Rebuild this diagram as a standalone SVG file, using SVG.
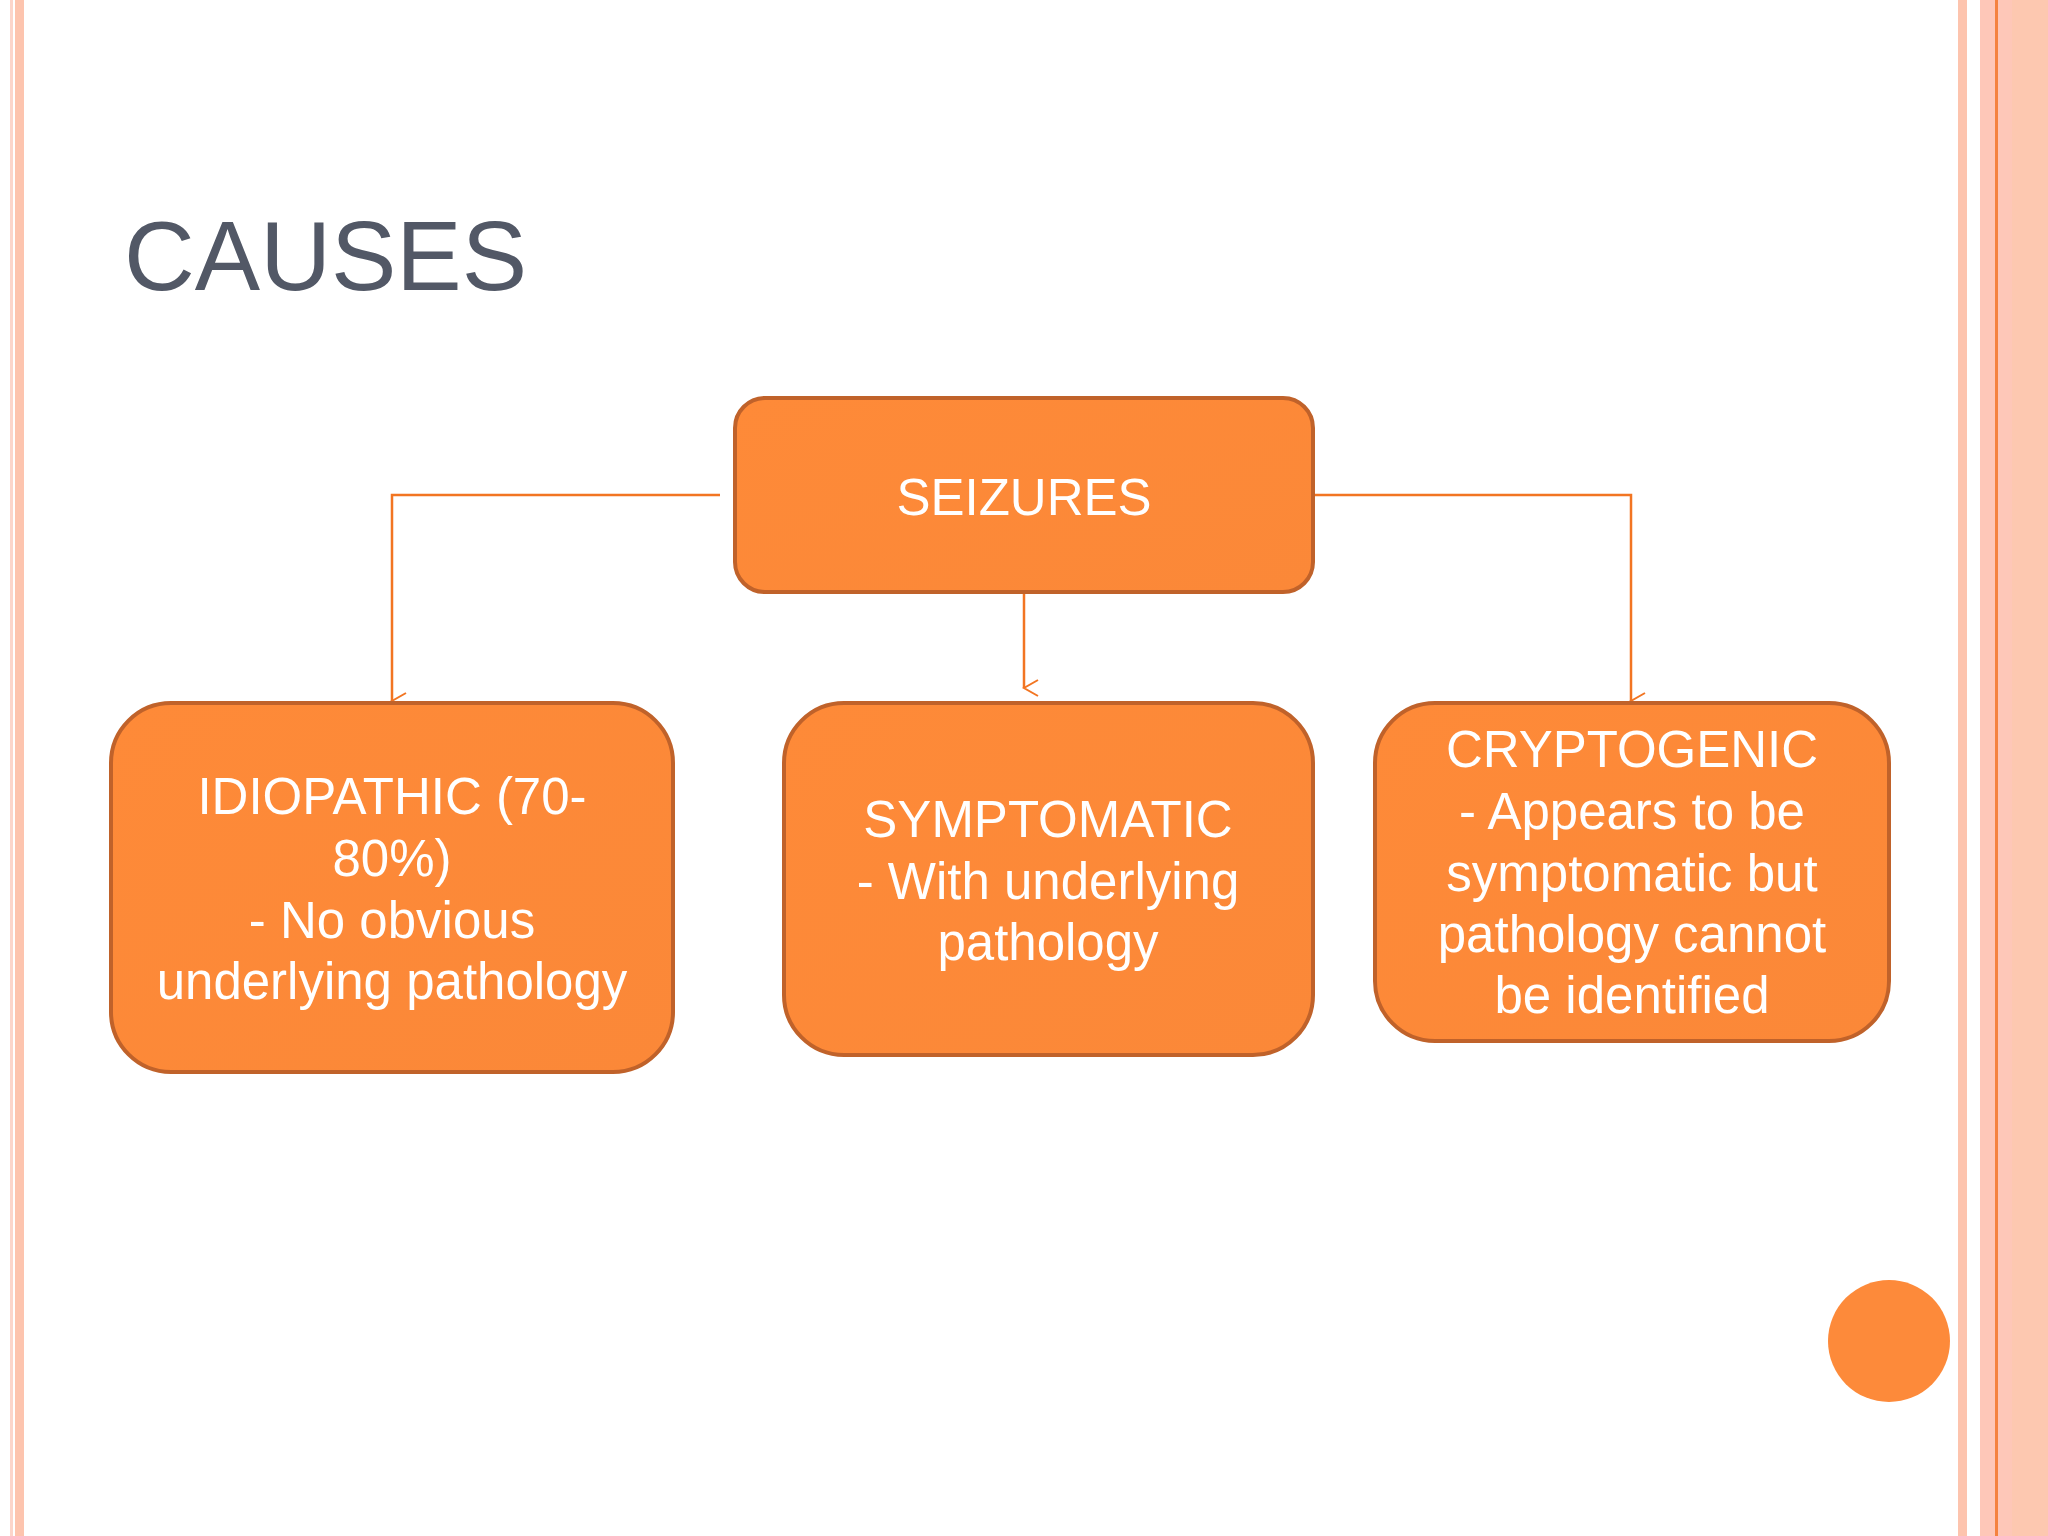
<svg xmlns="http://www.w3.org/2000/svg" width="2048" height="1536" viewBox="0 0 2048 1536">
<defs>
<linearGradient id="g" x1="0" y1="0" x2="1" y2="1"><stop offset="0" stop-color="#FE8A38"/><stop offset="1" stop-color="#FB8838"/></linearGradient>
<marker id="a" viewBox="0 0 20 20" refX="10" refY="18" markerWidth="20" markerHeight="20" markerUnits="userSpaceOnUse" orient="auto-start-reverse"><path d="M2 4 L10 18 L18 4" fill="none" stroke="#F27522" stroke-width="2"/></marker>
</defs>
<style>
.box{fill:url(#g);stroke:#C0622A;stroke-width:4}
.t{font-family:"Liberation Sans",Arial,sans-serif;font-size:51px;fill:#fff;text-anchor:middle}
.c{fill:none;stroke:#F27522;stroke-width:2.5}
</style>
<rect width="2048" height="1536" fill="#fff"/>
<rect x="10" y="0" width="3" height="1536" fill="#FCD5CA"/>
<rect x="15" y="0" width="9" height="1536" fill="#FDC4AE"/>
<rect x="1958" y="0" width="9" height="1536" fill="#FDC4AE"/>
<rect x="1980" y="0" width="68" height="1536" fill="#FEC7B8"/>
<rect x="2012" y="0" width="36" height="1536" fill="#FDC8B0"/>
<rect x="1995" y="0" width="3" height="1536" fill="#F5823F"/>
<text x="124" y="290" font-family="Liberation Sans,Arial,sans-serif" font-size="98" fill="#525866">CAUSES</text>
<g id="connectors">
<path class="c" d="M720 495 H392 V701" marker-end="url(#a)"/>
<path class="c" d="M1024 594 V688" marker-end="url(#a)"/>
<path class="c" d="M1315 495 H1631 V701" marker-end="url(#a)"/>
</g>
<g id="seizures"><rect class="box" x="735" y="398" width="578" height="194" rx="30"/><text class="t" x="1024" y="515">SEIZURES</text></g>
<g id="idiopathic"><rect class="box" x="111" y="703" width="562" height="369" rx="60"/>
<text class="t" x="392" y="814">IDIOPATHIC (70-</text><text class="t" x="392" y="876">80%)</text><text class="t" x="392" y="938">- No obvious</text><text class="t" x="392" y="999">underlying pathology</text></g>
<g id="symptomatic"><rect class="box" x="784" y="703" width="529" height="352" rx="60"/>
<text class="t" x="1048" y="837">SYMPTOMATIC</text><text class="t" x="1048" y="899">- With underlying</text><text class="t" x="1048" y="960">pathology</text></g>
<g id="cryptogenic"><rect class="box" x="1375" y="703" width="514" height="338" rx="60"/>
<text class="t" x="1632" y="767">CRYPTOGENIC</text><text class="t" x="1632" y="829">- Appears to be</text><text class="t" x="1632" y="891">symptomatic but</text><text class="t" x="1632" y="952">pathology cannot</text><text class="t" x="1632" y="1013">be identified</text></g>
<circle cx="1889" cy="1341" r="61" fill="#FD8A3A"/>
</svg>
